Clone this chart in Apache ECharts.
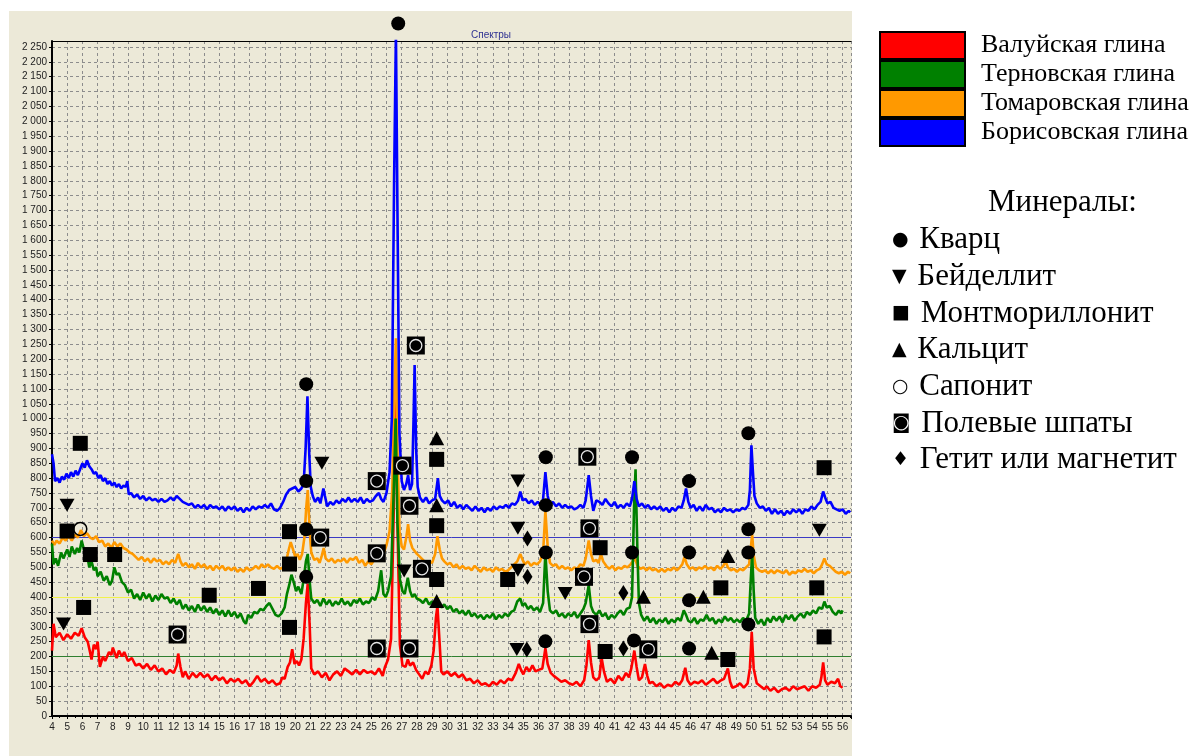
<!DOCTYPE html>
<html>
<head>
<meta charset="utf-8">
<script src="https://cdn.jsdelivr.net/npm/echarts@6/dist/echarts.min.js"></script>
<style>
  html, body { margin: 0; padding: 0; background: #ffffff; }
  #chart { width: 1196px; height: 756px; }
</style>
</head>
<body>
<div id="chart"></div>
<script>
// X-ray diffraction spectra of four clays, 2θ (degrees) vs intensity
const seriesNames = ['Валуйская глина', 'Терновская глина', 'Томаровская глина', 'Борисовская глина'];
const seriesColors = ['#ff0000', '#008000', '#ff9900', '#0000ff'];

const valuySpectrum = [
[4.0,220],[4.1,310],[4.25,265],[4.5,280],[4.75,255],[5.0,275],[5.25,260],[5.5,280],[5.75,270],[5.95,295],[6.15,265],[6.35,250],[6.5,215],[6.6,190],[6.75,240],[6.9,225],[7.0,250],[7.15,165],[7.35,200],[7.5,185],[7.75,215],[7.9,205],[8.0,230],[8.25,195],[8.4,220],[8.6,200],[8.75,215],[9.0,185],[9.25,195],[9.5,170],[9.75,175],[10.0,160],[10.25,175],[10.5,155],[10.75,170],[11.0,150],[11.25,160],[11.5,140],[11.75,155],[12.0,145],[12.2,170],[12.3,210],[12.45,165],[12.6,130],[12.75,150],[13.0,125],[13.25,145],[13.5,130],[13.75,145],[14.0,130],[14.25,140],[14.5,120],[14.75,135],[15.0,120],[15.25,130],[15.5,110],[15.75,125],[16.0,115],[16.25,125],[16.5,110],[16.75,120],[17.0,100],[17.25,115],[17.5,135],[17.75,115],[18.0,125],[18.25,110],[18.5,120],[18.75,105],[19.0,110],[19.15,130],[19.3,125],[19.5,165],[19.65,180],[19.8,225],[19.95,175],[20.1,185],[20.25,170],[20.4,190],[20.55,260],[20.7,380],[20.82,445],[20.95,300],[21.05,160],[21.25,140],[21.5,150],[21.75,130],[22.0,145],[22.25,120],[22.5,140],[22.75,150],[23.0,135],[23.25,160],[23.5,150],[23.75,140],[24.0,155],[24.25,140],[24.5,155],[24.75,145],[25.0,150],[25.25,140],[25.5,160],[25.75,135],[25.9,165],[26.1,190],[26.3,260],[26.48,700],[26.62,1150],[26.74,600],[26.88,240],[27.05,170],[27.25,165],[27.4,190],[27.55,170],[27.75,180],[27.95,155],[28.15,140],[28.35,125],[28.55,150],[28.75,140],[28.95,170],[29.1,220],[29.25,330],[29.35,370],[29.5,240],[29.6,150],[29.75,140],[30.0,150],[30.25,135],[30.5,145],[30.75,130],[31.0,140],[31.25,120],[31.5,125],[31.75,110],[32.0,120],[32.25,105],[32.5,110],[32.75,100],[33.0,115],[33.25,105],[33.5,120],[33.75,110],[34.0,125],[34.25,120],[34.5,145],[34.7,175],[34.85,155],[35.0,140],[35.2,165],[35.4,150],[35.6,170],[35.8,150],[36.0,155],[36.25,160],[36.45,228],[36.6,175],[36.8,145],[37.0,135],[37.25,125],[37.5,115],[37.75,120],[38.0,110],[38.25,105],[38.5,115],[38.75,100],[39.0,120],[39.15,170],[39.3,255],[39.45,180],[39.6,130],[39.8,120],[40.0,130],[40.15,195],[40.3,150],[40.5,115],[40.75,125],[41.0,110],[41.25,135],[41.5,120],[41.75,145],[41.95,130],[42.1,160],[42.3,220],[42.45,165],[42.6,120],[42.8,130],[43.0,175],[43.15,135],[43.3,110],[43.5,115],[43.75,100],[44.0,110],[44.25,95],[44.5,105],[44.75,100],[45.0,115],[45.25,105],[45.45,120],[45.65,162],[45.8,120],[46.0,105],[46.25,115],[46.5,110],[46.75,120],[47.0,105],[47.25,115],[47.5,125],[47.75,110],[48.0,120],[48.2,125],[48.45,160],[48.6,115],[48.75,95],[49.0,100],[49.25,110],[49.5,95],[49.75,110],[49.9,160],[50.02,283],[50.15,160],[50.35,110],[50.6,100],[50.85,90],[51.0,100],[51.25,85],[51.5,95],[51.75,80],[52.0,90],[52.25,95],[52.5,85],[52.75,100],[53.0,90],[53.25,95],[53.5,100],[53.75,85],[54.0,100],[54.25,95],[54.5,105],[54.6,130],[54.72,180],[54.85,120],[55.0,105],[55.25,115],[55.5,110],[55.7,125],[55.85,100],[56.0,95]
];

const ternovSpectrum = [
[4.0,580],[4.1,510],[4.25,530],[4.4,505],[4.6,550],[4.75,530],[5.0,560],[5.15,535],[5.3,570],[5.5,545],[5.65,565],[5.8,550],[5.95,590],[6.1,560],[6.3,545],[6.45,500],[6.6,520],[6.75,490],[6.9,500],[7.0,470],[7.2,485],[7.4,455],[7.6,470],[7.8,440],[7.95,455],[8.1,500],[8.25,475],[8.4,480],[8.6,450],[8.8,440],[9.0,415],[9.2,425],[9.4,395],[9.6,410],[9.8,390],[10.0,415],[10.2,395],[10.4,410],[10.6,385],[10.8,405],[11.0,390],[11.2,410],[11.4,395],[11.6,400],[11.8,380],[12.0,395],[12.2,375],[12.4,390],[12.6,360],[12.8,375],[13.0,355],[13.2,370],[13.4,350],[13.6,375],[13.8,355],[14.0,370],[14.2,350],[14.4,365],[14.6,345],[14.8,360],[15.0,340],[15.2,355],[15.4,335],[15.6,355],[15.8,335],[16.0,350],[16.2,330],[16.4,345],[16.6,320],[16.75,310],[16.9,340],[17.1,330],[17.3,350],[17.5,345],[17.7,360],[17.9,355],[18.1,370],[18.3,380],[18.5,360],[18.7,340],[18.9,335],[19.1,345],[19.3,365],[19.45,410],[19.6,440],[19.75,475],[19.9,450],[20.05,420],[20.2,435],[20.4,410],[20.55,460],[20.7,520],[20.82,545],[20.95,450],[21.05,395],[21.25,380],[21.45,390],[21.65,370],[21.85,395],[22.05,375],[22.25,390],[22.45,370],[22.65,385],[22.85,375],[23.05,395],[23.25,375],[23.45,385],[23.65,370],[23.85,390],[24.05,380],[24.25,395],[24.45,375],[24.65,385],[24.85,380],[25.05,400],[25.25,390],[25.45,420],[25.65,490],[25.8,410],[25.95,400],[26.1,420],[26.3,470],[26.5,800],[26.6,1000],[26.72,650],[26.88,460],[27.05,420],[27.2,410],[27.4,465],[27.55,420],[27.7,400],[27.85,410],[28.0,395],[28.2,390],[28.4,380],[28.6,395],[28.8,375],[29.0,385],[29.2,370],[29.4,385],[29.6,365],[29.8,375],[30.0,360],[30.2,370],[30.4,350],[30.6,360],[30.8,345],[31.0,355],[31.2,340],[31.4,355],[31.6,335],[31.8,345],[32.0,330],[32.2,340],[32.4,325],[32.6,340],[32.8,330],[33.0,345],[33.2,325],[33.4,340],[33.6,330],[33.8,345],[34.0,335],[34.2,350],[34.4,355],[34.6,385],[34.8,395],[34.95,370],[35.1,380],[35.3,360],[35.5,370],[35.7,355],[35.9,365],[36.1,350],[36.3,380],[36.45,550],[36.6,420],[36.75,355],[36.95,345],[37.15,355],[37.35,335],[37.55,345],[37.75,330],[37.95,345],[38.15,335],[38.35,350],[38.55,330],[38.75,345],[38.95,360],[39.1,380],[39.3,440],[39.45,370],[39.6,350],[39.8,340],[40.0,355],[40.2,335],[40.4,345],[40.6,325],[40.8,340],[41.0,330],[41.2,345],[41.4,355],[41.6,340],[41.8,360],[42.0,365],[42.15,400],[42.28,700],[42.38,830],[42.5,560],[42.6,380],[42.75,340],[42.95,320],[43.15,335],[43.35,315],[43.55,330],[43.75,310],[43.95,325],[44.15,315],[44.35,330],[44.55,310],[44.75,325],[44.95,315],[45.15,330],[45.35,320],[45.55,355],[45.7,340],[45.85,320],[46.05,315],[46.25,330],[46.45,310],[46.65,325],[46.85,320],[47.05,340],[47.25,320],[47.45,330],[47.65,310],[47.85,325],[48.05,315],[48.25,335],[48.45,320],[48.65,330],[48.85,315],[49.05,325],[49.25,315],[49.45,330],[49.65,320],[49.85,345],[49.95,450],[50.05,545],[50.15,420],[50.25,330],[50.45,310],[50.65,325],[50.85,305],[51.05,330],[51.25,315],[51.45,335],[51.65,320],[51.85,335],[52.05,315],[52.25,340],[52.45,325],[52.65,340],[52.85,320],[53.05,335],[53.25,345],[53.45,330],[53.65,350],[53.85,340],[54.05,355],[54.25,345],[54.45,365],[54.65,360],[54.8,385],[54.95,365],[55.15,370],[55.35,350],[55.55,340],[55.75,355],[55.9,345],[56.0,355]
];

const tomarovSpectrum = [
[4.0,590],[4.15,575],[4.3,590],[4.5,580],[4.7,600],[4.9,590],[5.1,605],[5.3,590],[5.5,610],[5.7,600],[5.9,625],[6.1,605],[6.3,615],[6.5,600],[6.7,595],[6.9,605],[7.1,585],[7.3,590],[7.5,570],[7.7,580],[7.9,565],[8.1,585],[8.3,570],[8.5,580],[8.7,565],[8.9,560],[9.1,550],[9.3,545],[9.5,535],[9.7,525],[9.9,535],[10.1,520],[10.3,530],[10.5,515],[10.7,530],[10.9,520],[11.1,525],[11.3,510],[11.5,520],[11.7,510],[11.9,525],[12.1,515],[12.3,545],[12.45,520],[12.6,505],[12.8,515],[13.0,500],[13.2,510],[13.4,495],[13.6,515],[13.8,500],[14.0,510],[14.2,495],[14.4,505],[14.6,490],[14.8,505],[15.0,495],[15.2,505],[15.4,490],[15.6,500],[15.8,490],[16.0,500],[16.2,485],[16.4,495],[16.6,485],[16.8,500],[17.0,490],[17.2,495],[17.4,505],[17.6,495],[17.8,510],[18.0,500],[18.2,510],[18.4,500],[18.6,495],[18.8,505],[19.0,495],[19.2,500],[19.4,520],[19.55,555],[19.7,585],[19.85,560],[20.0,535],[20.15,545],[20.3,525],[20.45,545],[20.6,600],[20.72,700],[20.82,760],[20.95,620],[21.05,550],[21.25,525],[21.45,530],[21.6,515],[21.75,540],[21.87,565],[22.0,530],[22.2,520],[22.4,530],[22.6,515],[22.8,525],[23.0,520],[23.2,530],[23.4,515],[23.6,530],[23.8,525],[24.0,535],[24.2,515],[24.4,525],[24.6,505],[24.8,520],[25.0,510],[25.2,525],[25.4,540],[25.6,555],[25.8,545],[26.0,575],[26.2,620],[26.38,760],[26.52,1100],[26.62,1270],[26.72,880],[26.86,620],[27.0,570],[27.15,560],[27.3,600],[27.42,645],[27.55,590],[27.7,565],[27.85,555],[28.0,545],[28.2,535],[28.4,525],[28.6,515],[28.8,520],[29.0,515],[29.2,545],[29.35,605],[29.5,560],[29.65,530],[29.8,520],[30.0,510],[30.2,515],[30.4,500],[30.6,510],[30.8,495],[31.0,505],[31.2,495],[31.4,500],[31.6,490],[31.8,505],[32.0,495],[32.2,485],[32.4,500],[32.6,490],[32.8,495],[33.0,485],[33.2,500],[33.4,490],[33.6,495],[33.8,485],[34.0,490],[34.2,500],[34.4,510],[34.6,520],[34.8,545],[34.95,525],[35.1,510],[35.3,520],[35.5,505],[35.7,515],[35.9,510],[36.1,520],[36.3,550],[36.45,690],[36.6,570],[36.75,515],[36.95,505],[37.15,510],[37.35,495],[37.55,505],[37.75,495],[37.95,500],[38.15,490],[38.35,500],[38.55,495],[38.75,510],[38.95,505],[39.1,530],[39.3,590],[39.45,545],[39.6,520],[39.8,525],[39.95,515],[40.1,545],[40.25,520],[40.45,505],[40.65,495],[40.85,505],[41.05,490],[41.25,500],[41.45,495],[41.65,505],[41.85,500],[42.05,510],[42.2,520],[42.35,530],[42.5,505],[42.7,495],[42.9,500],[43.1,490],[43.3,500],[43.5,490],[43.7,495],[43.9,485],[44.1,495],[44.3,485],[44.5,495],[44.7,490],[44.9,500],[45.1,490],[45.3,500],[45.45,510],[45.6,535],[45.75,510],[45.95,495],[46.15,500],[46.35,490],[46.55,500],[46.75,495],[46.95,505],[47.15,495],[47.35,500],[47.55,490],[47.75,505],[47.95,495],[48.15,505],[48.3,520],[48.45,500],[48.65,490],[48.85,495],[49.05,485],[49.25,495],[49.45,490],[49.65,500],[49.85,510],[49.95,560],[50.05,610],[50.15,540],[50.3,500],[50.5,490],[50.7,485],[50.9,490],[51.1,480],[51.3,490],[51.5,480],[51.7,490],[51.9,485],[52.1,480],[52.3,490],[52.5,475],[52.7,485],[52.9,480],[53.1,490],[53.3,485],[53.5,495],[53.7,485],[53.9,490],[54.1,480],[54.3,490],[54.5,495],[54.65,510],[54.8,530],[54.95,510],[55.15,505],[55.35,495],[55.55,485],[55.75,480],[55.95,485],[56.15,475],[56.35,485],[56.5,480]
];

const borisovSpectrum = [
[4.0,880],[4.1,850],[4.2,790],[4.35,800],[4.5,785],[4.65,805],[4.8,795],[4.95,815],[5.1,800],[5.25,820],[5.4,805],[5.55,825],[5.7,810],[5.85,830],[6.0,850],[6.15,835],[6.3,860],[6.45,840],[6.6,830],[6.75,815],[6.9,820],[7.05,800],[7.2,810],[7.35,790],[7.5,800],[7.65,780],[7.8,790],[7.95,775],[8.1,785],[8.25,770],[8.4,780],[8.55,765],[8.7,775],[8.85,770],[8.95,790],[9.05,745],[9.2,750],[9.4,735],[9.6,745],[9.8,730],[10.0,740],[10.2,725],[10.4,735],[10.6,725],[10.8,730],[11.0,720],[11.2,730],[11.4,720],[11.6,725],[11.8,735],[12.0,725],[12.2,740],[12.4,730],[12.6,720],[12.8,715],[13.0,710],[13.2,715],[13.4,700],[13.6,710],[13.8,700],[14.0,710],[14.2,695],[14.4,710],[14.6,700],[14.8,705],[15.0,695],[15.2,705],[15.4,690],[15.6,705],[15.8,695],[16.0,705],[16.2,690],[16.4,700],[16.6,685],[16.8,700],[17.0,690],[17.2,705],[17.4,695],[17.6,705],[17.8,700],[18.0,710],[18.2,700],[18.4,715],[18.6,695],[18.8,690],[19.0,700],[19.2,720],[19.4,745],[19.6,760],[19.8,765],[20.0,770],[20.2,755],[20.4,765],[20.55,780],[20.68,900],[20.8,1075],[20.92,880],[21.02,770],[21.15,740],[21.3,720],[21.5,735],[21.65,715],[21.85,765],[21.95,740],[22.1,705],[22.3,720],[22.5,710],[22.7,725],[22.9,715],[23.1,730],[23.3,720],[23.5,735],[23.7,720],[23.9,730],[24.1,720],[24.3,735],[24.5,715],[24.7,730],[24.9,720],[25.1,725],[25.3,740],[25.5,750],[25.65,730],[25.8,720],[26.0,750],[26.2,820],[26.35,1000],[26.5,1800],[26.62,2300],[26.72,1700],[26.85,950],[27.0,790],[27.15,760],[27.3,780],[27.42,810],[27.55,760],[27.68,780],[27.78,1000],[27.85,1180],[27.95,900],[28.05,770],[28.2,735],[28.4,720],[28.6,735],[28.8,715],[29.0,725],[29.2,730],[29.38,800],[29.5,740],[29.65,725],[29.85,715],[30.05,725],[30.25,705],[30.45,720],[30.65,700],[30.85,710],[31.05,695],[31.25,710],[31.45,700],[31.65,690],[31.85,705],[32.05,690],[32.25,700],[32.45,685],[32.65,700],[32.85,690],[33.05,705],[33.25,695],[33.45,705],[33.65,700],[33.85,710],[34.05,700],[34.25,715],[34.45,710],[34.65,725],[34.8,755],[34.95,725],[35.15,730],[35.35,715],[35.55,725],[35.75,710],[35.95,720],[36.15,710],[36.3,730],[36.45,820],[36.6,740],[36.75,710],[36.95,720],[37.15,705],[37.35,715],[37.55,700],[37.75,710],[37.95,700],[38.15,705],[38.35,695],[38.55,700],[38.75,710],[38.95,700],[39.1,725],[39.3,810],[39.45,740],[39.6,690],[39.8,725],[40.0,720],[40.2,710],[40.4,730],[40.6,715],[40.8,705],[41.0,720],[41.2,700],[41.4,710],[41.6,700],[41.8,715],[42.0,705],[42.15,730],[42.3,790],[42.45,730],[42.6,705],[42.8,715],[43.0,700],[43.2,710],[43.4,695],[43.6,705],[43.8,695],[44.0,705],[44.2,690],[44.4,700],[44.6,685],[44.8,700],[45.0,690],[45.2,705],[45.4,700],[45.55,725],[45.7,765],[45.85,720],[46.0,700],[46.2,710],[46.4,690],[46.6,705],[46.8,690],[47.0,710],[47.2,695],[47.4,700],[47.6,685],[47.8,695],[48.0,685],[48.2,700],[48.4,690],[48.6,695],[48.8,685],[49.0,695],[49.2,690],[49.4,700],[49.6,695],[49.8,710],[49.9,760],[50.0,910],[50.1,820],[50.2,740],[50.35,715],[50.55,700],[50.75,705],[50.95,690],[51.15,700],[51.35,680],[51.55,695],[51.75,680],[51.95,690],[52.15,675],[52.35,690],[52.55,680],[52.75,695],[52.95,685],[53.15,695],[53.35,680],[53.55,695],[53.75,690],[53.95,705],[54.15,695],[54.35,710],[54.55,720],[54.72,755],[54.85,735],[55.0,715],[55.2,720],[55.4,700],[55.6,695],[55.8,690],[56.0,695],[56.2,680],[56.4,690],[56.5,685]
];

// Reference intensity levels drawn as horizontal lines
const refLevels = [600, 400, 200];
const refColors = ['#3a3ac4', '#f2f24a', '#2f7f2f'];

// Mineral peak markers: [2θ, intensity]
const quartzMarks = [[26.77,2329],[20.72,1116],[20.72,790],[20.72,628],[20.72,468],[36.48,870],[36.48,709],[36.48,550],[36.45,251],[42.15,870],[42.15,550],[42.28,254],[45.9,790],[45.9,550],[45.9,389],[45.9,227],[49.8,951],[49.8,628],[49.8,550],[49.8,308]];
const beidellitMarks = [[4.99,709],[4.76,309],[21.75,850],[27.16,488],[34.64,790],[34.64,631],[34.64,490],[34.57,224],[37.75,412],[54.47,625]];
const montmorilloniteMarks = [[5.86,917],[4.99,622],[6.52,543],[8.12,543],[6.08,365],[14.34,406],[17.58,429],[19.62,620],[19.62,511],[19.62,298],[29.3,863],[29.3,640],[29.3,459],[33.97,459],[40.05,566],[40.38,217],[47.99,431],[48.45,190],[54.3,431],[54.78,835],[54.78,266]];
const calciteMarks = [[29.3,934],[29.3,709],[29.3,387],[42.9,401],[46.84,401],[47.39,213],[48.45,538]];
const saponiteMarks = [[5.86,629]];
const feldsparMarks = [[12.26,274],[25.36,790],[25.36,547],[25.36,227],[21.64,600],[27.93,1246],[27.05,842],[27.51,707],[28.33,495],[27.51,227],[39.21,872],[39.35,631],[38.99,468],[39.35,309],[43.22,224]];
const goethiteMarks = [[35.27,597],[35.27,468],[35.23,224],[41.58,414],[41.58,227]];

const mineralsTitle = 'Минералы:';
const mineralSymbols = ['●', '▼', '■', '▲', '○', '◙', '♦'];
const mineralNames = ['Кварц', 'Бейделлит', 'Монтмориллонит', 'Кальцит', 'Сапонит', 'Полевые шпаты', 'Гетит или магнетит'];

function fmtThousands(v) {
  if (v >= 1000) {
    const r = v % 1000;
    return Math.floor(v / 1000) + ' ' + String(r).padStart(3, '0');
  }
  return String(v);
}

const chart = echarts.init(document.getElementById('chart'), null, { renderer: 'canvas' });

const spectra = [valuySpectrum, ternovSpectrum, tomarovSpectrum, borisovSpectrum];
const drawZ = [2, 4, 3, 5];
const lineSeries = seriesNames.map((name, i) => ({
  name: name,
  type: 'line',
  data: spectra[i],
  showSymbol: false,
  symbol: 'none',
  z: drawZ[i],
  lineStyle: { color: seriesColors[i], width: 2.6 },
  itemStyle: { color: seriesColors[i] },
  silent: true
}));

// Horizontal reference lines attached to the first spectrum
lineSeries[0].markLine = {
  silent: true,
  symbol: 'none',
  label: { show: false },
  animation: false,
  z: 1,
  data: refLevels.map((lv, i) => ({ yAxis: lv, lineStyle: { color: refColors[i], width: 1, type: 'solid' } }))
};

function markSeries(name, data, symbol, size, style, rotate) {
  return {
    name: name, type: 'scatter', data: data, symbol: symbol, symbolSize: size,
    symbolRotate: rotate || 0, clip: false, z: 10, silent: true,
    itemStyle: Object.assign({ opacity: 1 }, style)
  };
}

const markerSeries = [
  markSeries('quartz', quartzMarks, 'circle', 14, { color: '#000' }),
  markSeries('beidellite', beidellitMarks, 'triangle', [15, 13], { color: '#000' }, 180),
  markSeries('montmorillonite', montmorilloniteMarks, 'rect', 15, { color: '#000' }),
  markSeries('calcite', calciteMarks, 'triangle', [15, 14], { color: '#000' }),
  markSeries('saponite', saponiteMarks, 'circle', 13, { color: 'rgba(0,0,0,0)', borderColor: '#000', borderWidth: 1.5 }),
  markSeries('feldspar', feldsparMarks, 'rect', 18, { color: '#000' }),
  Object.assign(markSeries('feldsparRing', feldsparMarks, 'circle', 12, { color: 'rgba(0,0,0,0)', borderColor: '#e6e6e6', borderWidth: 1.3 }), { z: 11 }),
  markSeries('goethite', goethiteMarks, 'diamond', [10, 16], { color: '#000' })
];

// Minerals key: small glyph followed by the mineral name
const serifFont = '"Liberation Serif", "DejaVu Serif", serif';
const mineralGraphics = [
  { type: 'text', x: 988, y: 203, silent: true,
    style: { text: mineralsTitle, font: '31px ' + serifFont, fill: '#000', verticalAlign: 'middle' } }
].concat(mineralNames.map((t, i) => ({
  type: 'text', x: 892, y: 240 + i * 36.7, silent: true,
  style: {
    text: '{s|' + mineralSymbols[i] + '} ' + t,
    font: '31px ' + serifFont, fill: '#000', verticalAlign: 'middle',
    rich: { s: { fontSize: 19, fontFamily: '"DejaVu Sans", sans-serif', fill: '#000', padding: [0, 3, 0, 0] } }
  }
})));

const option = {
  animation: false,
  backgroundColor: '#ffffff',
  title: {
    text: 'Спектры',
    left: 466, top: 25,
    textStyle: { fontFamily: '"Liberation Sans", sans-serif', fontSize: 10, fontWeight: 'normal', color: '#2e3192' }
  },
  graphic: [
    { type: 'rect', z: -10, silent: true, shape: { x: 9, y: 11, width: 843, height: 745 }, style: { fill: '#ece9d8' } }
  ].concat(mineralGraphics),
  legend: {
    data: seriesNames,
    orient: 'vertical',
    left: 879, top: 31,
    padding: 0,
    itemWidth: 85, itemHeight: 27, itemGap: 0,
    icon: 'rect',
    selectedMode: false,
    itemStyle: { borderColor: '#000', borderWidth: 2 },
    textStyle: { fontFamily: '"Liberation Serif", serif', fontSize: 26, lineHeight: 27, color: '#000', padding: [0, 0, 0, 11] }
  },
  grid: { left: 52, right: 345, top: 41, bottom: 40, containLabel: false },
  xAxis: [{
    type: 'value', min: 4, max: 56.55, interval: 1,
    axisLine: { show: true, onZero: false, lineStyle: { color: '#000', width: 2 } },
    axisTick: { show: true, length: 3, lineStyle: { color: '#000' } },
    minorTick: { show: true, splitNumber: 2, length: 2, lineStyle: { color: '#000' } },
    axisLabel: { fontFamily: '"Liberation Sans", sans-serif', fontSize: 10, color: '#222', margin: 6, showMaxLabel: false },
    splitLine: { show: true, lineStyle: { color: '#8c8c8c', width: 1, type: [3, 3] } }
  }, {
    type: 'value', min: 4, max: 56.55, position: 'top',
    axisLine: { show: true, onZero: false, lineStyle: { color: '#000', width: 1 } },
    axisTick: { show: false }, axisLabel: { show: false }, splitLine: { show: false }
  }],
  yAxis: {
    type: 'value', min: 0, max: 2270, interval: 50,
    axisLine: { show: true, onZero: false, lineStyle: { color: '#000', width: 2 } },
    axisTick: { show: true, length: 3, lineStyle: { color: '#000' } },
    axisLabel: { fontFamily: '"Liberation Sans", sans-serif', fontSize: 10, color: '#222', margin: 5, showMaxLabel: false, formatter: fmtThousands },
    splitLine: { show: true, lineStyle: { color: '#8c8c8c', width: 1, type: [3, 3] } }
  },
  series: lineSeries.concat(markerSeries)
};

chart.setOption(option);
</script>
</body>
</html>
